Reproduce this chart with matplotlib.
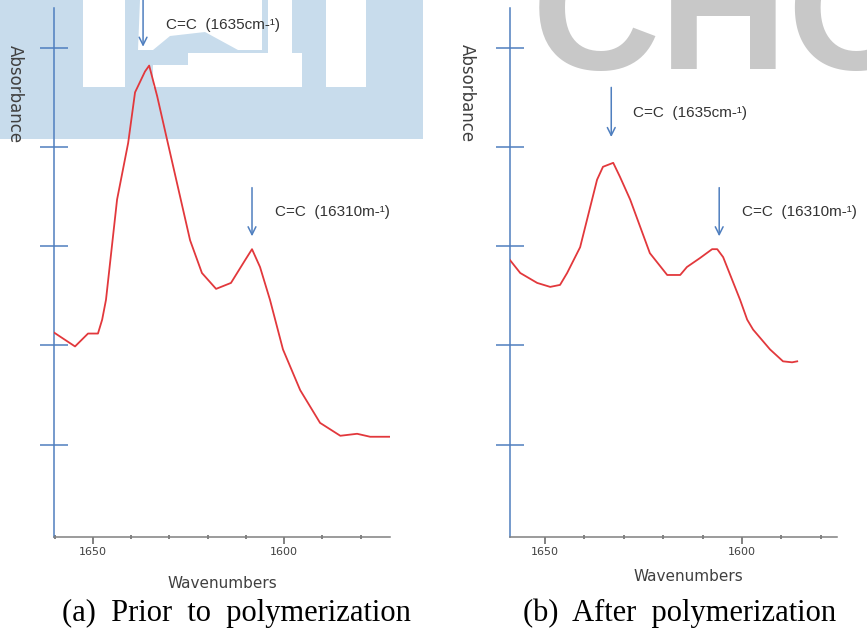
import matplotlib
matplotlib.use("Agg")
import matplotlib.pyplot as plt
from matplotlib.patches import Rectangle, Polygon

# ---------------- data ----------------
wn_before = [1660.2, 1654.7, 1651.3, 1648.7, 1647.6, 1646.6, 1643.7, 1640.8, 1639.0,
             1636.4, 1635.3, 1633.2, 1630.6, 1624.6, 1621.5, 1617.8, 1613.9, 1610.2,
             1608.4, 1606.3, 1603.7, 1600.3, 1595.8, 1590.6, 1585.3, 1580.9, 1577.5, 1572.3]
abs_before = [2.13, 1.99, 2.12, 2.12, 2.26, 2.46, 3.47, 4.04, 4.55,
              4.76, 4.82, 4.51, 4.07, 3.06, 2.73, 2.57, 2.63, 2.86,
              2.97, 2.79, 2.46, 1.96, 1.55, 1.22, 1.09, 1.11, 1.08, 1.08]

wn_after = [1658.9, 1656.3, 1652.0, 1648.7, 1646.2, 1644.4, 1641.1, 1636.8, 1635.3,
            1632.7, 1631.0, 1628.4, 1623.4, 1619.0, 1615.7, 1614.0, 1610.7, 1607.6,
            1606.3, 1604.8, 1600.5, 1598.7, 1597.2, 1592.9, 1589.6, 1587.3, 1586.0]
abs_after = [2.86, 2.73, 2.63, 2.59, 2.61, 2.73, 2.99, 3.67, 3.80,
             3.84, 3.70, 3.47, 2.93, 2.71, 2.71, 2.79, 2.88, 2.97,
             2.97, 2.89, 2.46, 2.26, 2.16, 1.96, 1.84, 1.83, 1.84]

major_ticks = [1650, 1600]
major_labels = ["1650", "1600"]
y_ticks = [1, 2, 3, 4, 5]
peak_label_1 = "C=C  (1635cm-\u00b9)"
peak_label_2 = "C=C  (16310m-\u00b9)"
captions = ["(a)  Prior  to  polymerization", "(b)  After  polymerization"]

W, H = 867, 631
fig = plt.figure(figsize=(W / 100, H / 100), dpi=100)
fig.patch.set_facecolor("white")


def fx(px):
    return px / W


def fy(py):
    return 1 - py / H


# ---------------- background watermark (behind everything) ----------------
bg = fig.add_axes([0, 0, 1, 1], zorder=-5)
bg.set_xlim(0, W)
bg.set_ylim(H, 0)
bg.axis("off")
wm_blue = "#c8dcec"
bg.add_patch(Rectangle((0, 0), 423, 139, facecolor=wm_blue, edgecolor="none"))
white_shapes = [
    [(83, 0), (125, 0), (125, 87), (83, 87)],
    [(326, 0), (366, 0), (366, 87), (326, 87)],
    [(140, 0), (262, 0), (262, 50), (238, 50), (205, 32), (170, 36), (153, 50), (138, 50)],
    [(268, 0), (292, 0), (292, 53), (268, 53)],
    [(188, 53), (302, 53), (302, 87), (153, 87), (153, 65), (188, 65)],
]
for shp in white_shapes:
    bg.add_patch(Polygon(shp, closed=True, facecolor="white", edgecolor="none"))
bg.text(532, 69, "CHO", fontsize=128, fontweight="bold", family="Liberation Sans",
        color="#c8c8c8", ha="left", va="baseline", clip_on=True)

# ---------------- axes ----------------
blue = "#4f7fbf"
red = "#e2383c"
txt = "#404040"

panels = [
    dict(rect=(fx(54), fy(537), fx(390) - fx(54), fy(8) - fy(537)), xlim=(1660.2, 1572.3),
         wn=wn_before, ab=abs_before,
         arrows=[((1636.9, 5.48), (1636.9, 5.01)), ((1608.4, 3.59), (1608.4, 3.10))],
         labels=[((1630.9, 5.23), peak_label_1), ((1602.4, 3.34), peak_label_2)],
         xlab=(0.5, -0.074), ylab=(-0.143, 0.837), cap=236),
    dict(rect=(fx(510), fy(537), fx(837) - fx(510), fy(8) - fy(537)), xlim=(1658.9, 1575.9),
         wn=wn_after, ab=abs_after,
         arrows=[((1633.2, 4.60), (1633.2, 4.10)), ((1605.8, 3.59), (1605.8, 3.10))],
         labels=[((1627.7, 4.34), peak_label_1), ((1600.0, 3.34), peak_label_2)],
         xlab=(0.544, -0.061), ylab=(-0.160, 0.839), cap=680),
]

for i, p in enumerate(panels):
    ax = fig.add_axes(p["rect"], zorder=2)
    ax.set_facecolor("none")
    ax.plot(p["wn"], p["ab"], color=red, lw=1.3, zorder=3)
    ax.set_xlim(*p["xlim"])
    ax.set_ylim(0.07, 5.40)
    for s in ("top", "right"):
        ax.spines[s].set_visible(False)
    ax.spines["left"].set_color(blue)
    ax.spines["left"].set_linewidth(1.1)
    ax.spines["bottom"].set_color("#808080")
    ax.spines["bottom"].set_linewidth(1.1)

    ax.set_yticks(y_ticks)
    ax.set_yticklabels([])
    ax.tick_params(axis="y", direction="inout", length=20, width=1.1, color=blue)

    ax.set_xticks(major_ticks)
    ax.set_xticklabels(major_labels)
    lo, hi = sorted(p["xlim"])
    minors = [v for v in range(1570, 1670, 10) if lo <= v <= hi and v not in major_ticks]
    ax.set_xticks(minors, minor=True)
    ax.tick_params(axis="x", which="major", direction="out", length=5, width=1.1,
                   color="#606060", labelsize=8, labelcolor=txt, pad=2)
    ax.tick_params(axis="x", which="minor", direction="inout", length=3, width=1.1,
                   color="#606060")

    ax.set_xlabel("Wavenumbers", fontsize=11, color=txt)
    ax.xaxis.set_label_coords(*p["xlab"])
    ax.set_ylabel("Absorbance", fontsize=12, color=txt, rotation=270)
    ax.yaxis.set_label_coords(*p["ylab"])

    for (start, end) in p["arrows"]:
        ax.annotate("", xy=end, xytext=start, annotation_clip=False,
                    arrowprops=dict(arrowstyle="->", color=blue, lw=1.1,
                                    mutation_scale=14, shrinkA=0, shrinkB=0))
    for (pos, lab) in p["labels"]:
        ax.text(pos[0], pos[1], lab, fontsize=11, color="#333333", ha="left",
                va="center", family="Liberation Sans", clip_on=False)

    fig.text(fx(p["cap"]), fy(613), captions[i], fontsize=22,
             family="Liberation Serif", color="black", ha="center", va="center")

fig.savefig("out.png", dpi=100, facecolor="white")
